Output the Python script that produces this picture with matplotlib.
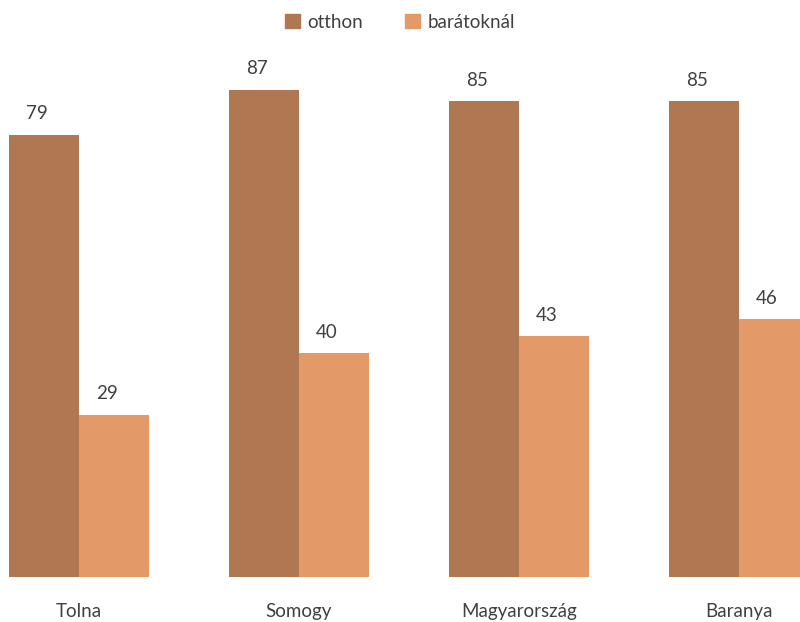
import matplotlib
matplotlib.use("Agg")
import matplotlib.pyplot as plt
import numpy as np
from matplotlib.patches import Patch

categories = ["Tolna", "Somogy", "Magyarország", "Baranya"]
otthon = [79, 87, 85, 85]
baratoknal = [29, 40, 43, 46]
series_names = ["otthon", "barátoknál"]
colors = ["#B07852", "#E39A68"]

plt.rcParams['font.family'] = ['Lato', 'DejaVu Sans']
text_color = "#404040"

fig = plt.figure(figsize=(8, 6.22), dpi=100)
ax = fig.add_axes([0, 45/622, 1, 577/622])

x = np.arange(len(categories))
w = 0.318
b1 = ax.bar(x - w/2, otthon, width=w, color=colors[0], label=series_names[0])
b2 = ax.bar(x + w/2, baratoknal, width=w, color=colors[1], label=series_names[1])

for bars, vals in ((b1, otthon), (b2, baratoknal)):
    for r, v in zip(bars, vals):
        ax.annotate(str(v), (r.get_x() + r.get_width()/2, v), xytext=(-5, 9),
                    textcoords="offset points", ha="center", va="bottom",
                    fontsize=13.5, color=text_color)

ax.set_xlim(-79/220, (800-79)/220)
ax.set_ylim(0, 577/5.6)
ax.set_yticks([])
ax.set_xticks(x)
ax.set_xticklabels(categories, fontsize=13.5, color=text_color)
ax.tick_params(axis='x', length=0, pad=19)
for s in ax.spines.values():
    s.set_visible(False)

handles = [Patch(color=colors[0]), Patch(color=colors[1])]
fig.legend(handles, series_names, loc="center", bbox_to_anchor=(0.5, 1 - 22/622),
           ncol=2, frameon=False, fontsize=13.5, handlelength=0.8, handleheight=0.8,
           handletextpad=0.4, columnspacing=2.2, labelcolor=text_color)

fig.savefig("out.png", dpi=100)
